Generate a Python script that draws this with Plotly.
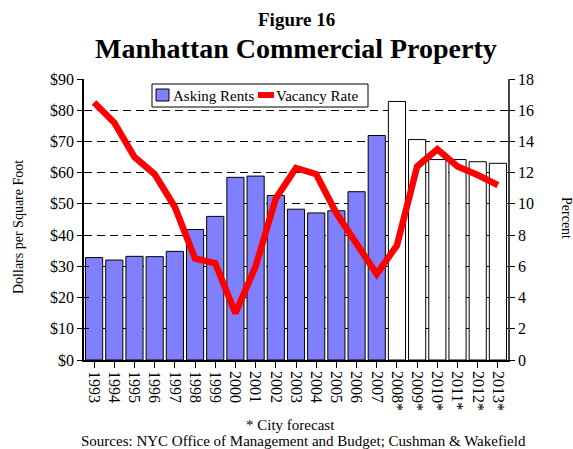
import plotly.graph_objects as go

years_actual = ["1993", "1994", "1995", "1996", "1997", "1998", "1999", "2000",
                "2001", "2002", "2003", "2004", "2005", "2006", "2007"]
years_forecast = ["2008*", "2009*", "2010*", "2011*", "2012*", "2013*"]
rents_actual = [32.8, 32.0, 33.2, 33.1, 34.8, 41.8, 46.0, 58.5,
                58.9, 52.7, 48.3, 47.1, 47.8, 53.9, 71.9]
rents_forecast = [82.8, 70.6, 64.2, 64.2, 63.5, 63.0]
vacancy = [16.5, 15.2, 13.0, 11.9, 9.8, 6.5, 6.2, 3.0, 6.0, 10.35, 12.3,
           11.9, 9.4, 7.5, 5.5, 7.35, 12.4, 13.5, 12.4, 11.85, 11.2]
all_years = years_actual + years_forecast

FONT = "Liberation Serif, Times New Roman, serif"
W, H = 573, 449
ML, MR, MT, MB = 84, 65, 79, 89
pw = W - ML - MR
ph = H - MT - MB


def px(x):
    return (x - ML) / pw


def py(y):
    return (H - MB - y) / ph


fig = go.Figure()
fig.add_trace(go.Bar(x=years_actual, y=rents_actual, name="Asking Rents",
                     marker=dict(color="#8080FF", line=dict(color="black", width=1)),
                     yaxis="y", showlegend=False))
fig.add_trace(go.Bar(x=years_forecast, y=rents_forecast, name="Forecast", showlegend=False,
                     marker=dict(color="white", line=dict(color="black", width=1)),
                     yaxis="y"))
fig.add_trace(go.Scatter(x=all_years, y=vacancy, name="Vacancy Rate", mode="lines",
                         line=dict(color="#FF0000", width=6.5), yaxis="y2", showlegend=False))
# helper trace so the inner tick axis renders
fig.add_trace(go.Scatter(x=[all_years[0]], y=[0], mode="lines",
                         showlegend=False, hoverinfo="skip", yaxis="y3"))

fig.update_layout(
    width=W, height=H,
    margin=dict(l=ML, r=MR, t=MT, b=MB),
    paper_bgcolor="white", plot_bgcolor="white",
    font=dict(family=FONT, size=16, color="black"),
    bargap=0.15, barmode="overlay",
    showlegend=False,
    xaxis=dict(type="category", categoryorder="array", categoryarray=all_years,
               range=[-0.5, len(all_years) - 0.5], autorange=False,
               tickangle=90, ticks="outside", ticklen=6, tickcolor="black",
               showline=True, linecolor="black", linewidth=1.5,
               showgrid=False, tickfont=dict(family=FONT, size=16, color="black")),
    yaxis=dict(range=[0, 90], dtick=10, tickprefix="$", ticks="outside", ticklen=5,
               tickcolor="black", showline=True, linecolor="black", linewidth=1.5,
               showgrid=True, gridcolor="black", griddash="8px,5px", gridwidth=1,
               zeroline=False, tickfont=dict(family=FONT, size=16)),
    yaxis2=dict(range=[0, 18], dtick=2, overlaying="y", side="right",
                ticks="outside", ticklen=5, tickcolor="black",
                showline=True, linecolor="#444444", linewidth=1.5,
                showgrid=False, zeroline=False, tickfont=dict(family=FONT, size=16)),
    yaxis3=dict(range=[0, 90], dtick=10, overlaying="y", side="left",
                ticks="inside", ticklen=5, tickcolor="black", showticklabels=False,
                showline=False, showgrid=False, zeroline=False),
)


def ann(text, x, y, size, angle=0, anchor="center"):
    fig.add_annotation(text=text, x=px(x), y=py(y),
                       xref="paper", yref="paper", xanchor=anchor, yanchor="middle",
                       showarrow=False, textangle=angle,
                       font=dict(family=FONT, size=size, color="black"))


ann("<b>Figure 16</b>", 296, 20, 19)
ann("<b>Manhattan Commercial Property</b>", 296, 48, 28)
ann("Dollars per Square Foot", 18, 227, 14, -90)
ann("Percent", 567, 218, 14, 90)
ann("* City forecast", 290, 425, 15)
ann("Sources: NYC Office of Management and Budget; Cushman &amp; Wakefield", 303, 441, 15)

# legend (box, swatches, labels)
fig.add_shape(type="rect", xref="paper", yref="paper", x0=px(152), x1=px(368),
              y0=py(107), y1=py(84), fillcolor="white", line=dict(color="black", width=1),
              layer="above")
fig.add_shape(type="rect", xref="paper", yref="paper", x0=px(156), x1=px(169),
              y0=py(101), y1=py(89), fillcolor="#8080FF", line=dict(color="black", width=1),
              layer="above")
fig.add_shape(type="line", xref="paper", yref="paper", x0=px(258), x1=px(274),
              y0=py(95), y1=py(95), line=dict(color="#FF0000", width=6), layer="above")
ann("Asking Rents", 171, 95.5, 15, anchor="left")
ann("Vacancy Rate", 274, 95.5, 15, anchor="left")

fig.write_html("out.html", post_script="document.body.style.margin='0';",
               config={"displayModeBar": False})
